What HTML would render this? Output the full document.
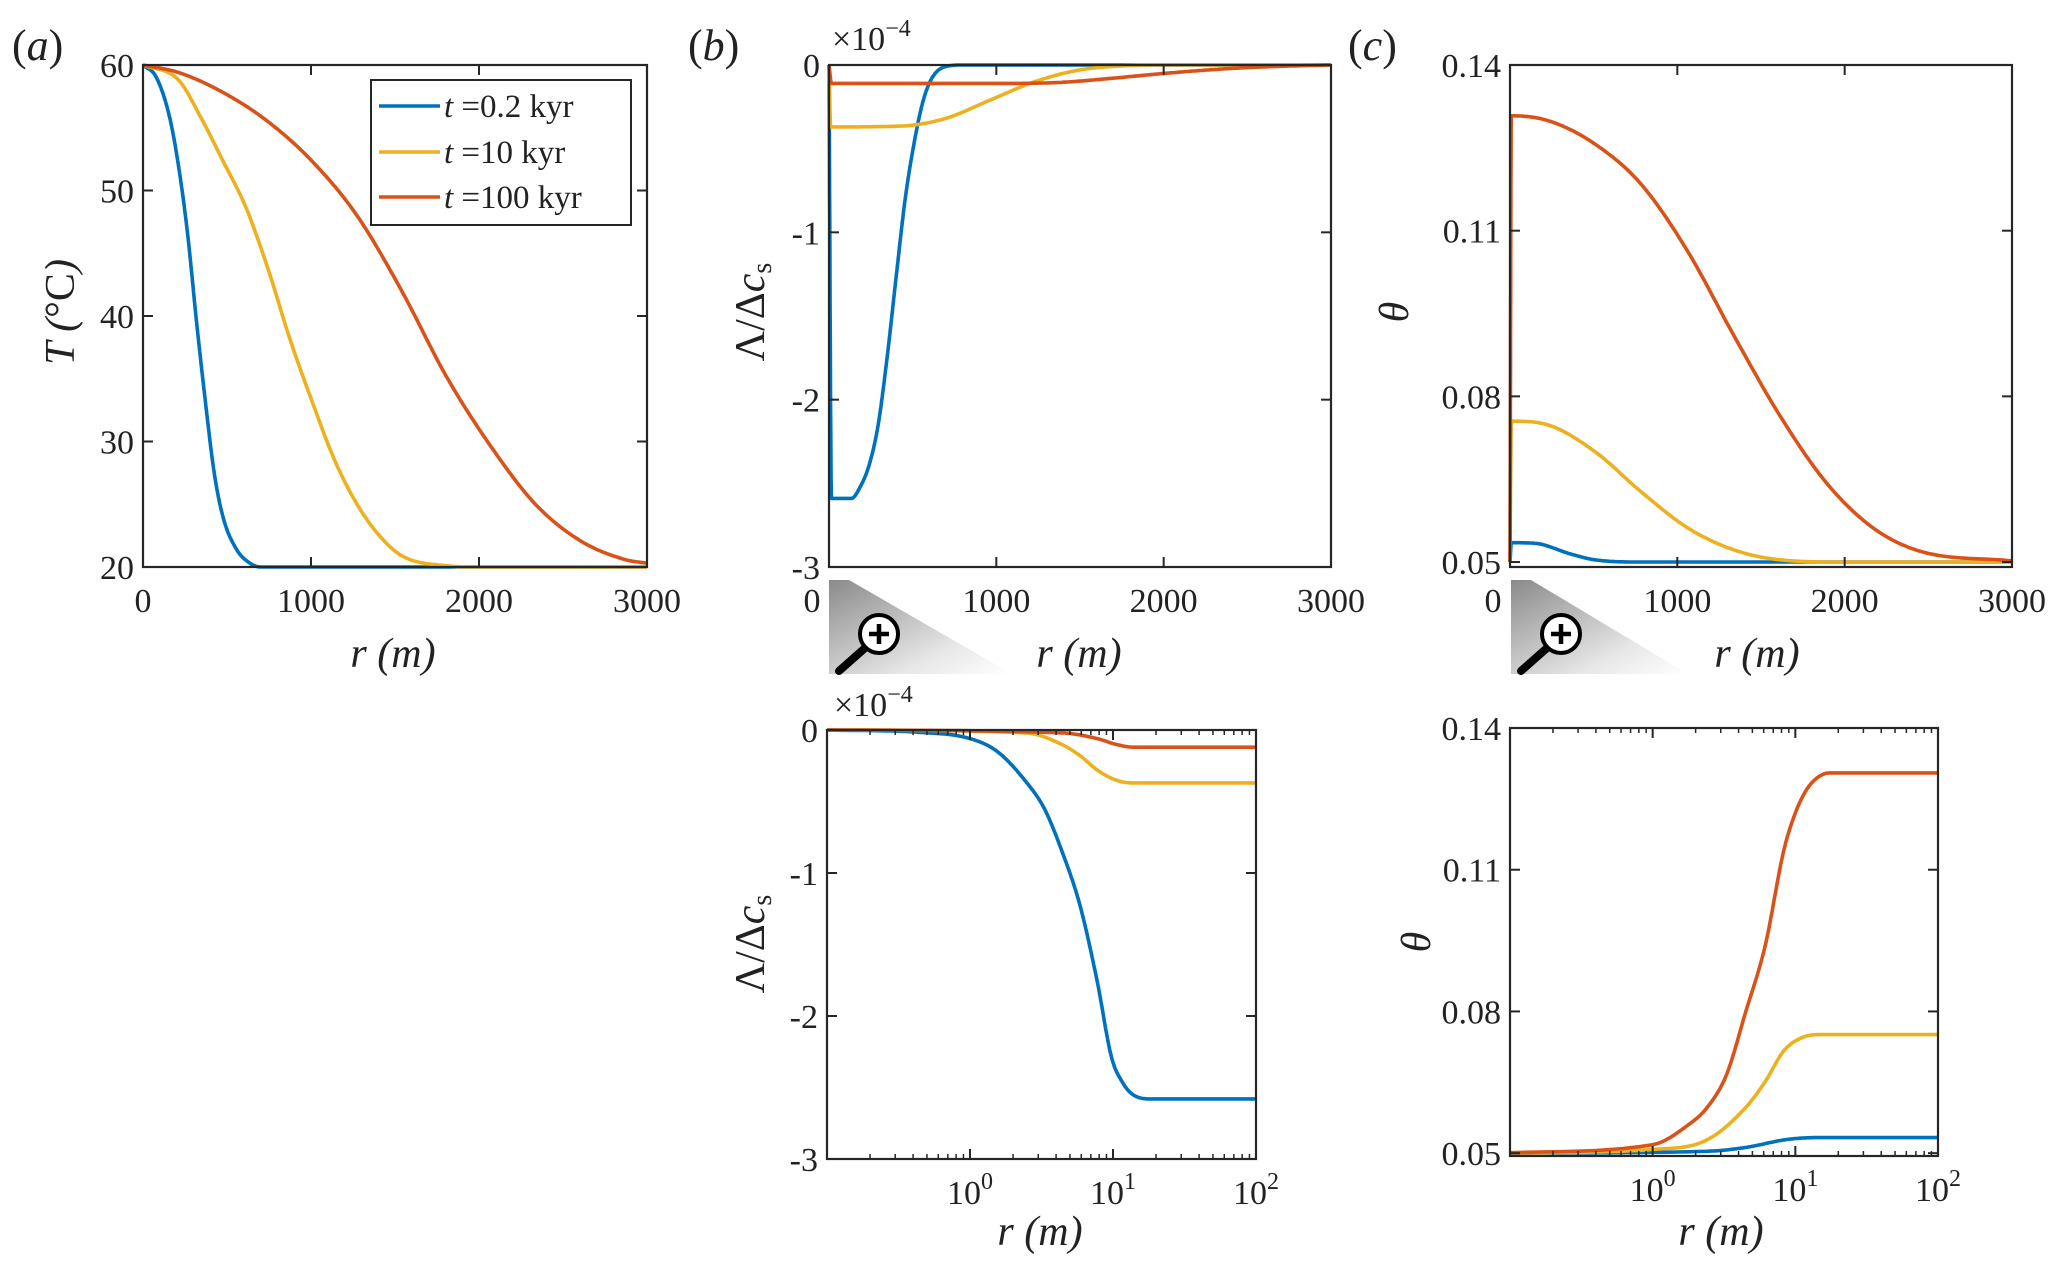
<!DOCTYPE html>
<html><head><meta charset="utf-8">
<style>
html,body{margin:0;padding:0;background:#fff;}
svg{display:block;font-family:"Liberation Serif","DejaVu Serif",serif;}
.tk{font-size:34px;fill:#222;}
.lab{font-size:42px;fill:#222;font-style:italic;}
.pl{font-size:44px;fill:#222;}
</style></head>
<body>
<svg id="fig" width="2067" height="1271" viewBox="0 0 2067 1271" xmlns="http://www.w3.org/2000/svg">
<defs>
<linearGradient id="mg" x1="0" y1="0" x2="1" y2="1">
<stop offset="0" stop-color="#8a8a8a"/><stop offset="0.7" stop-color="#e8e8e8"/><stop offset="1" stop-color="#ffffff"/>
</linearGradient>
</defs>
<g id="root"></g>
</svg>
<script>
// ---- data ----
const seriesNames = ["t =0.2 kyr","t =10 kyr","t =100 kyr"];
const seriesColors = ["#0072BD","#EDB120","#D95319"];
// Panel a: T vs r
const aBlueR = [0,80,159,212,265,319,372,425,478,557,637,700,3000];
const aBlueT = [60,59,55.8,51.9,46.6,39.5,33.1,27.4,23.9,21.4,20.3,20,20];
const aYelR = [0,212,345,478,611,743,876,1009,1141,1274,1407,1540,1805,2000,3000];
const aYelT = [60,58.8,55.8,52.3,48.7,43.8,38.1,33.1,28.5,25,22.5,20.9,20.1,20,20];
const aRedR = [0,212,478,743,1009,1274,1540,1805,2071,2336,2602,2867,3000];
const aRedT = [60,59.4,57.8,55.5,52.3,48,42,35.2,29.6,25,22.1,20.6,20.3];
// Panel b top: Lambda/dc (x1e-4) vs r
const bBlueR = [0,15,134,187,240,294,347,401,454,508,561,614,695,800,3000];
const bBlueV = [0,-2.59,-2.59,-2.52,-2.39,-2.15,-1.75,-1.27,-0.81,-0.47,-0.22,-0.08,-0.01,0,0];
const bYelR = [0,10,427,695,962,1229,1496,1763,2000,3000];
const bYelV = [0,-0.37,-0.365,-0.32,-0.21,-0.10,-0.03,-0.005,0,0];
const bRedR = [0,15,1000,1362,1630,1897,2164,2431,2698,3000];
const bRedV = [0,-0.11,-0.11,-0.105,-0.085,-0.06,-0.037,-0.019,-0.008,0];
// Panel c top: theta vs r
const cBlueR = [0,8,147,368,507,800,3000];
const cBlueV = [0.05,0.0535,0.0534,0.0514,0.0504,0.05,0.05];
const cYelR = [0,8,230,507,784,1061,1338,1615,2000,3000];
const cYelV = [0.05,0.0755,0.0748,0.070,0.0627,0.0562,0.0522,0.0504,0.05,0.05];
const cRedR = [0,8,230,507,784,1061,1338,1615,1892,2169,2446,3000];
const cRedV = [0.05,0.1308,0.1299,0.1257,0.1184,0.1063,0.0910,0.0764,0.0643,0.0562,0.052,0.0502];
// Bottom left (log r): log10(r) and values
const dBlueL = [-1,-0.36,0,0.19,0.39,0.52,0.64,0.77,0.89,0.99,1.07,1.14,1.27,2];
const dBlueV = [0,-0.016,-0.06,-0.15,-0.36,-0.55,-0.84,-1.23,-1.76,-2.29,-2.47,-2.55,-2.58,-2.58];
const dYelL = [-1,0.39,0.64,0.77,0.89,1.02,1.14,2];
const dYelV = [0,-0.02,-0.10,-0.18,-0.28,-0.35,-0.37,-0.37];
const dRedL = [-1,0.64,0.89,1.02,1.14,2];
const dRedV = [0,-0.02,-0.06,-0.10,-0.12,-0.12];
// Bottom right (log r)
const eRedL = [-1,0,0.25,0.38,0.52,0.65,0.79,0.92,1.0,1.08,1.16,1.24,2];
const eRedV = [0.0501,0.0518,0.056,0.0596,0.0668,0.0797,0.0941,0.1142,0.122,0.127,0.1296,0.1305,0.1305];
const eYelL = [-1,0,0.38,0.65,0.79,0.92,1.05,1.19,2];
const eYelV = [0.05,0.0508,0.0528,0.0596,0.0652,0.0717,0.0745,0.0751,0.0751];
const eBlueL = [-1,0.38,0.65,0.92,1.05,1.19,2];
const eBlueV = [0.05,0.0504,0.0512,0.0528,0.0532,0.0533,0.0533];
// tick labels
const linXTicks = [0,1000,2000,3000];
const aYTicks = [20,30,40,50,60];
const bYTicks = [0,-1,-2,-3];
const cYTicks = [0.05,0.08,0.11,0.14];
const logXTicks = [0,1,2];

const NS="http://www.w3.org/2000/svg";
const root=document.getElementById('root');
function mk(tag,attrs,parent){const e=document.createElementNS(NS,tag);for(const k in attrs)e.setAttribute(k,attrs[k]);(parent||root).appendChild(e);return e;}

// monotone cubic (Fritsch-Carlson) interpolation in data space
function monoSample(xs,ys,n){
  const N=xs.length,d=[],m=new Array(N);
  for(let i=0;i<N-1;i++)d.push((ys[i+1]-ys[i])/(xs[i+1]-xs[i]));
  m[0]=d[0];m[N-1]=d[N-2];
  for(let i=1;i<N-1;i++){m[i]=(d[i-1]*d[i]<=0)?0:(d[i-1]+d[i])/2;}
  for(let i=0;i<N-1;i++){
    if(d[i]===0){m[i]=0;m[i+1]=0;continue;}
    const a=m[i]/d[i],b=m[i+1]/d[i],s=a*a+b*b;
    if(s>9){const t=3/Math.sqrt(s);m[i]=t*a*d[i];m[i+1]=t*b*d[i];}
  }
  const out=[];
  for(let i=0;i<N-1;i++){
    const h=xs[i+1]-xs[i];
    for(let k=0;k<n;k++){
      const t=k/n,t2=t*t,t3=t2*t;
      const y=(2*t3-3*t2+1)*ys[i]+(t3-2*t2+t)*h*m[i]+(-2*t3+3*t2)*ys[i+1]+(t3-t2)*h*m[i+1];
      out.push([xs[i]+t*h,y]);
    }
  }
  out.push([xs[N-1],ys[N-1]]);
  return out;
}

function panel(name,box,xd,yd){
  const g=mk('g',{});
  
  
  const sx=v=>box.l+(v-xd[0])/(xd[1]-xd[0])*(box.r-box.l);
  const sy=v=>box.b-(v-yd[0])/(yd[1]-yd[0])*(box.b-box.t);
  return {g,sx,sy,box};
}
function frame(P,xTickVals,xTickText,yTickVals,yTickText,isLog,zeroShift){
  const {g,sx,sy,box}=P;
  const fr=mk('rect',{x:box.l,y:box.t,width:box.r-box.l,height:box.b-box.t,fill:'none',stroke:'#262626','stroke-width':2.2},g);
  
  
  xTickVals.forEach((v,i)=>{
    const x=sx(v);
    mk('line',{x1:x,y1:box.b,x2:x,y2:box.b-10,stroke:'#262626','stroke-width':2},g);
    mk('line',{x1:x,y1:box.t,x2:x,y2:box.t+10,stroke:'#262626','stroke-width':2},g);
    const lx=(i===0&&zeroShift)?x-zeroShift:x;
    const t=mk('text',{x:lx,y:box.b+45,'text-anchor':'middle',class:'tk'},g);
    
    
    if(isLog){t.textContent='10';const s=mk('tspan',{dy:-15,'font-size':24},t);s.textContent=String(xTickText[i]);}
    else t.textContent=String(xTickText[i]);
  });
  if(isLog){
    for(let d=-1;d<2;d++)for(let m=2;m<10;m++){
      const x=sx(d+Math.log10(m));
      mk('line',{x1:x,y1:box.b,x2:x,y2:box.b-5,stroke:'#262626','stroke-width':1.5},g);
      mk('line',{x1:x,y1:box.t,x2:x,y2:box.t+5,stroke:'#262626','stroke-width':1.5},g);
    }
  }
  yTickVals.forEach((v,i)=>{
    const y=sy(v);
    mk('line',{x1:box.l,y1:y,x2:box.l+10,y2:y,stroke:'#262626','stroke-width':2},g);
    mk('line',{x1:box.r,y1:y,x2:box.r-10,y2:y,stroke:'#262626','stroke-width':2},g);
    const t=mk('text',{x:box.l-9,y:y+12,'text-anchor':'end',class:'tk'},g);
    
    
    t.textContent=yTickText[i];
  });
}
function series(P,xs,ys,color,nm){
  const pts=monoSample(xs,ys,20).map(p=>[P.sx(p[0]),P.sy(p[1])]);
  const d="M"+pts.map(p=>p[0].toFixed(1)+","+p[1].toFixed(1)).join(" L");
  const p=mk('path',{d:d,fill:'none',stroke:color,'stroke-width':3.6,'stroke-linejoin':'round'},P.g);
  
  
}
function text(x,y,str,cls,extra,nm){
  const t=mk('text',Object.assign({x:x,y:y,class:cls},extra||{}));
  
  
  t.innerHTML=str;return t;
}

// Panel a
const A=panel('panel-a',{l:143,r:647,t:65,b:567},[0,3000],[20,60]);
series(A,aBlueR,aBlueT,seriesColors[0],'line-a-0.2kyr');
series(A,aYelR,aYelT,seriesColors[1],'line-a-10kyr');
series(A,aRedR,aRedT,seriesColors[2],'line-a-100kyr');
frame(A,linXTicks,linXTicks,aYTicks,aYTicks.map(String),false,0);

// Panel b top
const B=panel('panel-b-linear',{l:829,r:1331,t:65,b:567},[0,3000],[-3,0]);
series(B,bBlueR,bBlueV,seriesColors[0],'line-b-0.2kyr');
series(B,bYelR,bYelV,seriesColors[1],'line-b-10kyr');
series(B,bRedR,bRedV,seriesColors[2],'line-b-100kyr');
frame(B,linXTicks,linXTicks,bYTicks,bYTicks.map(String),false,17);

// Panel c top
const C=panel('panel-c-linear',{l:1510,r:2012,t:65,b:567},[0,3000],[0.0491,0.14]);
series(C,cBlueR,cBlueV,seriesColors[0],'line-c-0.2kyr');
series(C,cYelR,cYelV,seriesColors[1],'line-c-10kyr');
series(C,cRedR,cRedV,seriesColors[2],'line-c-100kyr');
frame(C,linXTicks,linXTicks,cYTicks,cYTicks.map(v=>v.toFixed(2)),false,17);

// Bottom left log
const D=panel('panel-b-log',{l:827,r:1256,t:730,b:1159},[-1,2],[-3,0]);
series(D,dBlueL,dBlueV,seriesColors[0],'line-b-log-0.2kyr');
series(D,dYelL,dYelV,seriesColors[1],'line-b-log-10kyr');
series(D,dRedL,dRedV,seriesColors[2],'line-b-log-100kyr');
frame(D,logXTicks,logXTicks,bYTicks,bYTicks.map(String),true,0);

// Bottom right log
const E=panel('panel-c-log',{l:1510,r:1938,t:728,b:1156},[-1,2],[0.0494,0.14]);
series(E,eBlueL,eBlueV,seriesColors[0],'line-c-log-0.2kyr');
series(E,eYelL,eYelV,seriesColors[1],'line-c-log-10kyr');
series(E,eRedL,eRedV,seriesColors[2],'line-c-log-100kyr');
frame(E,logXTicks,logXTicks,cYTicks,cYTicks.map(v=>v.toFixed(2)),true,0);

// Legend
const lg=mk('g',{});


mk('rect',{x:371,y:80,width:260,height:145,fill:'#fff',stroke:'#262626','stroke-width':2},lg);
[106,152,197].forEach((y,i)=>{
  const l=mk('line',{x1:379,y1:y,x2:440,y2:y,stroke:seriesColors[i],'stroke-width':3.6},lg);
  
  
  const t=mk('text',{x:444,y:y+11,'font-size':33,fill:'#222'},lg);
  
  
  const it=mk('tspan',{'font-style':'italic'},t);it.textContent='t';
  const r=mk('tspan',{},t);r.textContent=seriesNames[i].slice(1);
});

// Panel labels
text(12,60,'(<tspan font-style="italic">a</tspan>)','pl',{},'panel-label-a');
text(688,60,'(<tspan font-style="italic">b</tspan>)','pl',{},'panel-label-b');
text(1348,60,'(<tspan font-style="italic">c</tspan>)','pl',{},'panel-label-c');

// Axis titles
text(393,667,'r (m)','lab',{'text-anchor':'middle'},'x-axis-title-a');
text(1079,667,'r (m)','lab',{'text-anchor':'middle'},'x-axis-title-b');
text(1757,667,'r (m)','lab',{'text-anchor':'middle'},'x-axis-title-c');
text(1040,1245,'r (m)','lab',{'text-anchor':'middle'},'x-axis-title-b-log');
text(1721,1245,'r (m)','lab',{'text-anchor':'middle'},'x-axis-title-c-log');
text(0,0,'T (<tspan font-style="normal">°C</tspan>)','lab',{'text-anchor':'middle',transform:'translate(74,312) rotate(-90)'},'y-axis-title-a');
text(0,0,'<tspan font-style="normal">Λ/Δ</tspan>c<tspan font-size="28" font-style="normal" dy="7">s</tspan>','lab',{'text-anchor':'middle',transform:'translate(764,312) rotate(-90)'},'y-axis-title-b');
text(0,0,'<tspan font-style="normal">Λ/Δ</tspan>c<tspan font-size="28" font-style="normal" dy="7">s</tspan>','lab',{'text-anchor':'middle',transform:'translate(764,944) rotate(-90)'},'y-axis-title-b-log');
text(0,0,'θ','lab',{'text-anchor':'middle',transform:'translate(1408,312) rotate(-90)'},'y-axis-title-c');
text(0,0,'θ','lab',{'text-anchor':'middle',transform:'translate(1430,942) rotate(-90)'},'y-axis-title-c-log');

// Exponent labels
text(832,50,'×10<tspan font-size="24" dy="-14">−4</tspan>','tk',{},'exponent-label-b');
text(834,716,'×10<tspan font-size="24" dy="-14">−4</tspan>','tk',{},'exponent-label-b-log');

// Magnifier zoom indicators
function magnifier(x0,x1,nm){
  const g=mk('g',{});
  
  
  mk('polygon',{points:`${x0},580 ${x0+20},580 ${x1},674 ${x0},674`,fill:'url(#mg)'},g);
  const cx=x0+50,cy=634;
  mk('line',{x1:cx-14,y1:cy+14,x2:x0+10,y2:671,stroke:'#000','stroke-width':8,'stroke-linecap':'round'},g);
  mk('circle',{cx:cx,cy:cy,r:19,fill:'#fff',stroke:'#000','stroke-width':4},g);
  mk('line',{x1:cx-10,y1:cy,x2:cx+10,y2:cy,stroke:'#000','stroke-width':4.5},g);
  mk('line',{x1:cx,y1:cy-10,x2:cx,y2:cy+10,stroke:'#000','stroke-width':4.5},g);
}
magnifier(829,1012,'zoom-indicator-b');
magnifier(1511,1688,'zoom-indicator-c');
</script>
</body></html>
